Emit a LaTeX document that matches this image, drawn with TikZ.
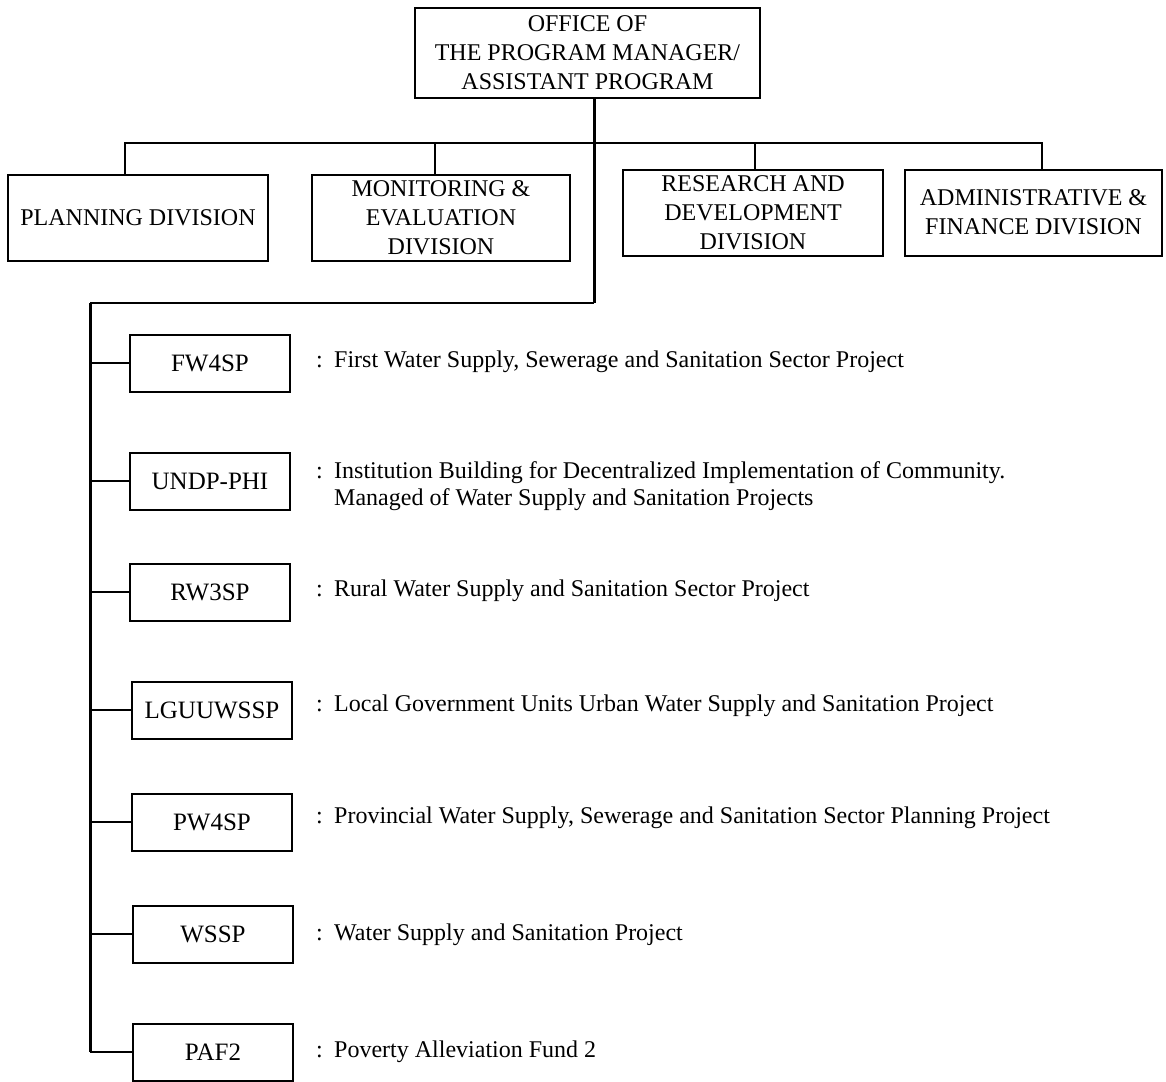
\documentclass[tikz,border=0pt]{standalone}
\usepackage{fontspec}
\setmainfont{Liberation Serif}
\begin{document}
\begin{tikzpicture}[x=1pt,y=-1pt,
  font=\fontsize{24}{29}\selectfont,
  box/.style={draw, line width=2pt, inner sep=0pt, align=center},
  divbox/.style={box, minimum width=258pt, minimum height=86pt},
  projbox/.style={box, minimum width=160pt, minimum height=57pt,
    font=\fontsize{25}{29}\selectfont},
  link/.style={line width=1.8pt},
  trunk/.style={line width=3pt},
  desc/.style={anchor=base west, align=left, inner sep=0pt},
  sep/.style={anchor=base west, inner sep=0pt}]
\useasboundingbox (0,0) rectangle (1166,1081);

% head office
\node[box, minimum width=345pt, minimum height=90pt] (top) at (587.5,53)
  {OFFICE OF\\THE PROGRAM MANAGER/\\ASSISTANT PROGRAM};

% divisions
\node[divbox, minimum width=260pt] (plan) at (138,218) {PLANNING DIVISION};
\node[divbox] (mon) at (441,218) {MONITORING \&\\EVALUATION\\DIVISION};
\node[divbox, minimum width=260pt] (res) at (753,212.5) {RESEARCH AND\\DEVELOPMENT\\DIVISION};
\node[divbox, minimum width=257pt] (adm) at (1033.5,212.5) {ADMINISTRATIVE \&\\FINANCE DIVISION};

% bus linking the divisions
\coordinate (busL) at (125,143);
\coordinate (busR) at (1042,143);
\draw[link] ([xshift=-13pt]plan.north) -- (busL) -- (busR) -- ([xshift=8.5pt]adm.north);
\draw[link] ([xshift=-6pt]mon.north) -- ([xshift=-6pt]mon.north |- busL);
\draw[link] ([xshift=2pt]res.north) -- ([xshift=2pt]res.north |- busL);

% trunk to the projects
\coordinate (elbow) at (594,303);
\coordinate (corner) at (90,303);
\coordinate (trunkEnd) at (90,1052);
\draw[trunk] (top.south -| elbow) -- (elbow);
\draw[link] (elbow) -- (corner);
\draw[trunk] (corner) -- (trunkEnd);

% projects
\node[projbox] (fw)   at (210,363)  {FW4SP};
\node[projbox] (undp) at (210,481)  {UNDP-PHI};
\node[projbox] (rw)   at (210,592)  {RW3SP};
\node[projbox] (lgu)  at (212,710)  {LGUUWSSP};
\node[projbox] (pw)   at (212,822)  {PW4SP};
\node[projbox] (wssp) at (213,934)  {WSSP};
\node[projbox] (paf)  at (213,1052) {PAF2};

\foreach \p in {fw,undp,rw,lgu,pw,wssp}
  \draw[link] (\p.west) -- (\p.west -| corner);
\draw[link] (trunkEnd) -- (paf.west);

% descriptions
\node[sep] (cfw) at (316,367) {:};
\node[desc] (dfw) at (334,367) {First Water Supply, Sewerage and Sanitation Sector Project};
\node[sep] (cundp) at (316,478) {:};
\node[desc] (dundp) at (334,478) {Institution Building for Decentralized Implementation of Community.};
\node[desc] (dundpb) at (334,505) {Managed of Water Supply and Sanitation Projects};
\node[sep] (crw) at (316,596) {:};
\node[desc] (drw) at (334,596) {Rural Water Supply and Sanitation Sector Project};
\node[sep] (clgu) at (316,711) {:};
\node[desc] (dlgu) at (334,711) {Local Government Units Urban Water Supply and Sanitation Project};
\node[sep] (cpw) at (316,823) {:};
\node[desc] (dpw) at (334,823) {Provincial Water Supply, Sewerage and Sanitation Sector Planning Project};
\node[sep] (cwssp) at (316,940) {:};
\node[desc] (dwssp) at (334,940) {Water Supply and Sanitation Project};
\node[sep] (cpaf) at (316,1057) {:};
\node[desc] (dpaf) at (334,1057) {Poverty Alleviation Fund 2};
\end{tikzpicture}
\end{document}
